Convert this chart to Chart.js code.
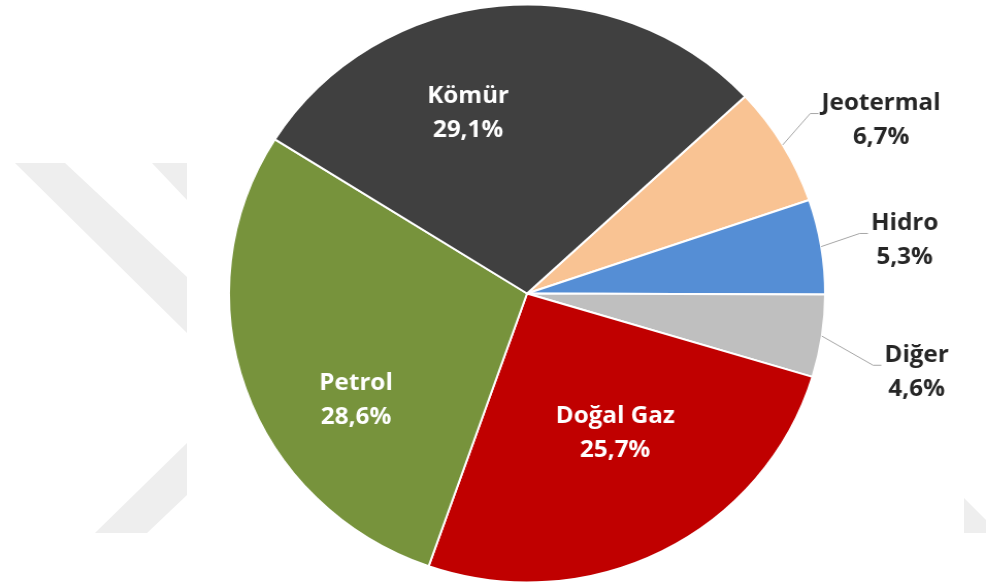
<!DOCTYPE html>
<html lang="tr">
<head>
<meta charset="UTF-8">
<title>Enerji Kaynakları</title>
<script src="https://cdn.jsdelivr.net/npm/chart.js"></script>
<style>
  html, body { margin: 0; padding: 0; background: #fff; }
  #wrap { position: relative; width: 986px; height: 587px; overflow: hidden; }
  #wm { position: absolute; left: 0; top: 0; }
  #pasta { position: absolute; left: 0; top: 0; transform: scaleX(1.0314); transform-origin: 0 0; }
</style>
</head>
<body>
<div id="wrap">
  <!-- arkadaki soluk filigran -->
  <svg id="wm" width="986" height="587">
    <g fill="#eeeeee">
      <polygon points="15,163 65,163 187,277 187,333"/>
      <polygon points="152,163 187,163 187,200"/>
      <polygon points="187,443 187,495 147,533 95,533"/>
      <polygon points="964,498 986,520 986,533 964,533"/>
    </g>
  </svg>
  <canvas id="pasta" width="956" height="587"></canvas>
</div>

<script>
// veriler
var kaynaklar = ['Jeotermal', 'Hidro', 'Diğer', 'Doğal Gaz', 'Petrol', 'Kömür'];
var paylar = [6.7, 5.3, 4.6, 25.7, 28.6, 29.1];

var renkler = ['#F9C393', '#558ED5', '#BFBFBF', '#C00000', '#77933C', '#404040'];

// etiket yerleşimi: açı kayması (derece), merkezden uzaklık (yarıçap oranı), dışarıda mı
var etiketYeri = [
    { da: 4.2, f: 1.33, dis: true },
    { da: 1.1, f: 1.28, dis: true },
    { da: 3.3, f: 1.335, dis: true },
    { da: -4.5, f: 0.566, dis: false },
    { da: -13.5, f: 0.682, dis: false },
    { da: -12.2, f: 0.655, dis: false }
];

function yuzde(v) {
    return v.toFixed(1).replace('.', ',') + '%';
}

var etiketEklentisi = {
    id: 'etiketler',
    afterDatasetsDraw: function (chart) {
        var ctx = chart.ctx;
        var meta = chart.getDatasetMeta(0);
        ctx.save();
        ctx.font = 'bold 23.5px "Open Sans"';
        ctx.textAlign = 'center';
        ctx.textBaseline = 'middle';
        meta.data.forEach(function (arc, i) {
            var p = arc.getProps(['x', 'y', 'startAngle', 'endAngle', 'outerRadius'], true);
            var yer = etiketYeri[i];
            var orta = (p.startAngle + p.endAngle) / 2;
            var a = orta + yer.da * Math.PI / 180;
            var cx = p.x + Math.cos(a) * p.outerRadius * yer.f;
            var cy = p.y + Math.sin(a) * p.outerRadius * yer.f;
            var s1 = chart.data.labels[i];
            var s2 = yuzde(chart.data.datasets[0].data[i]);

            if (yer.dis) {
                // kılavuz çizgisi
                var w = Math.max(ctx.measureText(s1).width, ctx.measureText(s2).width);
                var sx = p.x + Math.cos(orta) * p.outerRadius;
                var sy = p.y + Math.sin(orta) * p.outerRadius;
                var ex = cx - w / 2 - 3;
                var ey = cy - 7;
                ctx.beginPath();
                ctx.strokeStyle = '#A6A6A6';
                ctx.lineWidth = 1;
                ctx.moveTo(sx, sy);
                ctx.lineTo(ex - 8, ey);
                ctx.lineTo(ex, ey);
                ctx.stroke();
                ctx.fillStyle = '#262626';
            } else {
                ctx.fillStyle = '#FFFFFF';
            }
            ctx.fillText(s1, cx, cy - 17);
            ctx.fillText(s2, cx, cy + 17);
        });
        ctx.restore();
    }
};

var grafik = new Chart(document.getElementById('pasta').getContext('2d'), {
    type: 'pie',
    data: {
        labels: kaynaklar,
        datasets: [{
            data: paylar,
            backgroundColor: renkler,
            borderColor: '#FFFFFF',
            borderWidth: 2,
            hoverOffset: 0
        }]
    },
    options: {
        responsive: false,
        animation: false,
        rotation: 47,
        radius: 289,
        layout: { padding: { left: 222, right: 156, top: 4.5, bottom: 4.5 } },
        plugins: {
            legend: { display: false },
            tooltip: { enabled: false }
        }
    },
    plugins: [etiketEklentisi]
});
</script>
</body>
</html>
